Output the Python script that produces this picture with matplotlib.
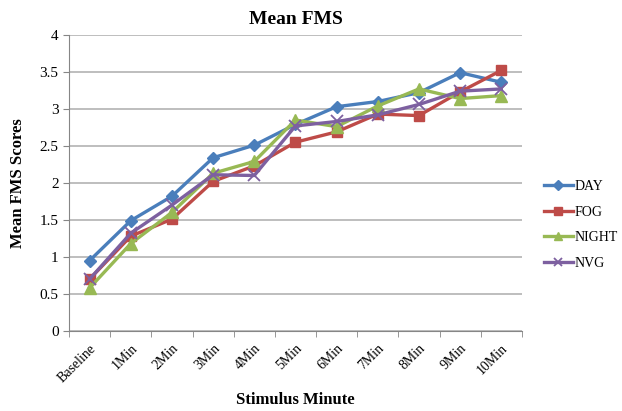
import numpy as np
import matplotlib.pyplot as plt

plt.rcParams['font.family'] = ['Liberation Serif', 'DejaVu Serif']

minutes = ['Baseline', '1Min', '2Min', '3Min', '4Min', '5Min',
           '6Min', '7Min', '8Min', '9Min', '10Min']
day = [0.95, 1.49, 1.82, 2.34, 2.51, 2.79, 3.03, 3.10, 3.22, 3.49, 3.36]
fog = [0.70, 1.28, 1.51, 2.02, 2.23, 2.55, 2.69, 2.93, 2.91, 3.23, 3.52]
night = [0.58, 1.18, 1.60, 2.13, 2.29, 2.85, 2.76, 3.04, 3.27, 3.14, 3.18]
nvg = [0.70, 1.32, 1.70, 2.11, 2.10, 2.77, 2.83, 2.92, 3.06, 3.24, 3.27]

series = [('DAY', day, '#4A7EBB', 'D', 6),
          ('FOG', fog, '#BE4B48', 's', 7),
          ('NIGHT', night, '#98B954', '^', 8),
          ('NVG', nvg, '#7D60A0', 'x', 8)]

fig = plt.figure(figsize=(6.22, 4.11), dpi=100)
ax = fig.add_axes([0.111, 0.195, 0.728, 0.72])

x = np.arange(len(minutes))
for name, vals, col, mk, ms in series:
    kw = dict(markeredgewidth=1.3) if mk == 'x' else dict(markeredgecolor=col)
    ax.plot(x, vals, color=col, marker=mk, markersize=ms, linewidth=2.4,
            label=name, **kw)

ax.set_xlim(-0.5, len(minutes) - 0.5)
ax.set_ylim(0, 4)
ax.set_yticks(np.arange(0, 4.01, 0.5))
ax.set_yticklabels(['0', '0.5', '1', '1.5', '2', '2.5', '3', '3.5', '4'])
ax.yaxis.grid(True, color='#b3b3b3', linewidth=1.2)
ax.set_axisbelow(True)

ax.set_xticks(x)
ax.set_xticklabels(minutes, rotation=45, ha='right', rotation_mode='anchor')
ax.set_xticks(np.arange(-0.5, len(minutes)), minor=True)
ax.tick_params(axis='x', which='major', length=0, pad=8, labelsize=10)
ax.tick_params(axis='x', which='minor', length=4, color='#868686')
ax.tick_params(axis='y', length=4, color='#868686', labelsize=11)

for side in ['top', 'right']:
    ax.spines[side].set_visible(False)
for side in ['left', 'bottom']:
    ax.spines[side].set_color('#868686')

ax.set_title('Mean FMS', fontsize=14, fontweight='bold', pad=8)
ax.set_xlabel('Stimulus Minute', fontsize=12, fontweight='bold', labelpad=5)
ax.set_ylabel('Mean FMS Scores', fontsize=12, fontweight='bold', labelpad=10)

fig.legend(loc='upper left', bbox_to_anchor=(0.874, 0.562), frameon=False,
           fontsize=10, handlelength=2.1, labelspacing=0.9, handletextpad=0.15,
           borderaxespad=0, borderpad=0, markerscale=0.8)

fig.savefig('out.png', dpi=100)
